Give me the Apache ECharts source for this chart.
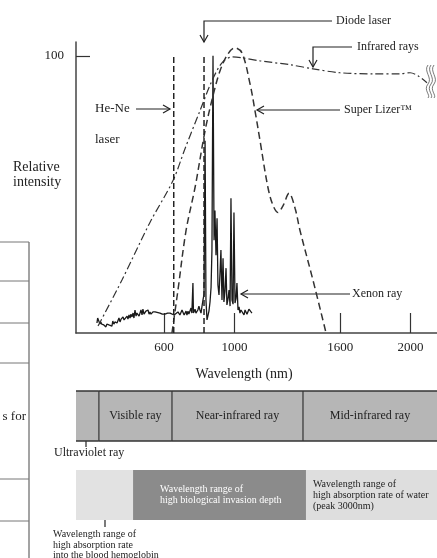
<!DOCTYPE html>
<html>
<head>
<meta charset="utf-8">
<style>
  html, body { margin: 0; padding: 0; background: #fff; }
  #chart { width: 437px; height: 558px; }
</style>
<script src="https://cdn.jsdelivr.net/npm/echarts@6/dist/echarts.min.js"></script>
</head>
<body>
<div id="chart"></div>
<script>
// x tick labels (nm) and y tick label
var tickValues = [600, 1000, 1600, 2000];
var yTicks = [100];

// Xenon ray spectrum (nm, relative intensity)
var xenonNm  = [219, 223, 227, 231, 236, 241, 246, 253, 258, 264, 270, 275, 281, 287, 292, 298, 304, 309, 315, 321, 327, 333, 339, 344, 350, 356, 361, 367, 373, 378, 384, 390, 395, 401, 407, 412, 418, 424, 429, 435, 441, 446, 452, 458, 463, 469, 475, 480, 486, 492, 497, 503, 509, 515, 520, 526, 537, 549, 560, 577, 590, 605, 620, 634, 645, 657, 668, 679, 690, 696, 702, 708, 714, 719, 725, 730, 736, 741, 747, 753, 758, 764, 767, 770, 776, 781, 787, 792, 798, 804, 810, 815, 821, 827, 833, 838, 844, 850, 855, 861, 867, 872, 878, 884, 889, 895, 901, 906, 912, 918, 923, 929, 935, 940, 946, 952, 957, 963, 969, 975, 980, 986, 992, 997, 1003, 1009, 1014, 1020, 1026, 1031, 1037, 1043, 1048, 1054, 1060, 1065, 1071, 1077, 1082, 1088, 1094, 1099];
var xenonVal = [3.6, 5.4, 4.7, 5.0, 3.2, 4.0, 3.2, 3.6, 2.9, 3.2, 2.2, 3.2, 2.5, 2.9, 3.6, 2.9, 2.5, 4.3, 3.2, 4.0, 4.7, 3.6, 3.6, 5.4, 4.0, 5.0, 4.3, 5.8, 4.7, 5.4, 4.7, 6.1, 5.0, 6.5, 5.4, 6.8, 5.8, 7.2, 5.4, 8.3, 6.1, 7.2, 7.9, 6.1, 5.8, 8.3, 6.5, 8.6, 6.8, 6.1, 7.9, 7.2, 8.3, 6.8, 7.6, 6.8, 7.6, 7.6, 7.2, 7.2, 6.8, 6.8, 7.2, 7.2, 6.5, 6.5, 7.2, 7.6, 6.5, 6.8, 8.3, 8.6, 6.5, 6.8, 7.9, 6.5, 7.9, 6.8, 6.8, 9.0, 7.2, 18.0, 7.2, 7.2, 8.6, 7.2, 7.6, 8.3, 9.7, 8.3, 7.2, 9.4, 11.9, 14.0, 69.4, 11.9, 4.7, 4.7, 7.9, 11.2, 16.5, 29.9, 100, 33.5, 44.2, 28.1, 41.4, 17.3, 13.7, 22.0, 29.9, 11.9, 27.0, 11.2, 15.1, 23.4, 10.1, 12.2, 15.5, 9.7, 48.6, 11.9, 10.4, 43.5, 10.8, 12.6, 18.0, 8.3, 9.4, 7.2, 8.3, 9.0, 7.6, 6.5, 8.3, 8.6, 6.8, 6.5, 8.6, 9.0, 7.6, 7.2];

// Super Lizer output
var lizerNm  = [645, 679, 725, 776, 833, 878, 918, 963, 1003, 1043, 1088, 1117, 1145, 1190, 1219, 1247, 1276, 1310, 1344, 1372, 1446, 1520];
var lizerVal = [0, 15.5, 37, 52.5, 73, 85.6, 94.6, 100.7, 102.9, 101, 90, 80, 69.4, 52.5, 46, 43.5, 46, 50.4, 45, 37, 19, 0];

// Infrared rays
var infraNm  = [225, 361, 520, 651, 719, 804, 872, 929, 986, 1043, 1145, 1315, 1446, 1599, 1787, 1940, 1997, 2042, 2093];
var infraVal = [2.5, 19.1, 39.9, 55.0, 66.5, 80.2, 91.0, 97.5, 99.6, 99.3, 98.2, 96.8, 95.3, 93.9, 93.5, 93.5, 93.9, 92.8, 90.3];

// laser lines
var heNeNm = 655;
var diodeNm = 827;
var laserTop = 100;

// wavelength bands (nm ranges as drawn)
var bandRow1 = [[100, 230], [230, 645], [645, 1389], [1389, 2150]];
var bandRow1Labels = ['', 'Visible ray', 'Near-infrared ray', 'Mid-infrared ray'];
var bandRow2 = [[100, 424], [424, 1406], [1406, 2150]];
var bandRow2Labels = ['', 'Wavelength range of\nhigh biological invasion depth', 'Wavelength range of\nhigh absorption rate of water\n(peak 3000nm)'];

function pairs(xs, ys) {
  return xs.map(function (x, i) { return [x, ys[i]]; });
}

var serif = '"Liberation Serif", "DejaVu Serif", serif';
var ink = '#222';

function arrow(pts) {
  var p = pts[pts.length - 1], q = pts[pts.length - 2];
  var dx = p[0] - q[0], dy = p[1] - q[1];
  var len = Math.sqrt(dx * dx + dy * dy);
  var ux = dx / len, uy = dy / len;
  var head = [
    [p[0] - 7 * ux - 4 * uy, p[1] - 7 * uy + 4 * ux],
    p,
    [p[0] - 7 * ux + 4 * uy, p[1] - 7 * uy - 4 * ux]
  ];
  return [
    { type: 'polyline', shape: { points: pts }, style: { stroke: ink, lineWidth: 1.2, fill: null } },
    { type: 'polyline', shape: { points: head }, style: { stroke: ink, lineWidth: 1.2, fill: null } }
  ];
}

function label(x, y, text, size, extra) {
  var s = { x: x, y: y, text: text, font: (size || 12) + 'px ' + serif, fill: ink, verticalAlign: 'middle' };
  for (var k in extra) s[k] = extra[k];
  return { type: 'text', style: s };
}

var graphics = [];
graphics = graphics.concat(arrow([[332, 21], [204, 21], [204, 42]]));
graphics.push(label(336, 21, 'Diode laser'));
graphics = graphics.concat(arrow([[352, 47], [313, 47], [313, 67]]));
graphics.push(label(357, 47, 'Infrared rays'));
graphics = graphics.concat(arrow([[340, 110], [257, 110]]));
graphics.push(label(344, 110, 'Super Lizer\u2122'));
graphics = graphics.concat(arrow([[350, 294], [241, 294]]));
graphics.push(label(352, 294, 'Xenon ray'));
graphics = graphics.concat(arrow([[136, 109], [170, 109]]));
graphics.push(label(95, 109, 'He-Ne', 13));
graphics.push(label(95, 140, 'laser', 13));
graphics.push(label(13, 175, 'Relative\nintensity', 14, { lineHeight: 15 }));

// break mark at right end of infrared line
[0, 3, 6].forEach(function (o) {
  var x = 428 + o;
  graphics.push({
    type: 'bezierCurve',
    shape: { x1: x, y1: 65, cpx1: x - 5, cpy1: 71, cpx2: x + 5, cpy2: 78, x2: x, y2: 84 },
    style: { stroke: '#555', lineWidth: 0.8, fill: null }
  });
  graphics.push({
    type: 'bezierCurve',
    shape: { x1: x, y1: 84, cpx1: x - 5, cpy1: 90, cpx2: x + 3, cpy2: 95, x2: x, y2: 98 },
    style: { stroke: '#555', lineWidth: 0.8, fill: null }
  });
});

// pointer lines under the bands
graphics.push({ type: 'line', shape: { x1: 86, y1: 433, x2: 86, y2: 447 }, style: { stroke: ink, lineWidth: 1.2 } });
graphics.push(label(54, 453, 'Ultraviolet ray'));
graphics.push({ type: 'line', shape: { x1: 105, y1: 512, x2: 105, y2: 527 }, style: { stroke: ink, lineWidth: 1.2 } });
graphics.push(label(53, 545, 'Wavelength range of\nhigh absorption rate\ninto the blood hemoglobin', 10, { lineHeight: 10.5 }));

// part of the neighbouring table on the left
graphics.push({ type: 'line', shape: { x1: 29, y1: 242, x2: 29, y2: 558 }, style: { stroke: '#666', lineWidth: 1.2 } });
[242, 281, 323, 363, 479, 521].forEach(function (y) {
  graphics.push({ type: 'line', shape: { x1: 0, y1: y, x2: 29, y2: y }, style: { stroke: '#777', lineWidth: 1 } });
});
graphics.push(label(26, 417, 's for', 13, { align: 'right' }));

function bandRenderer(labels, fills, textFill, textOffsets, borders, fontSize) {
  return function (params, api) {
    var a = api.coord([api.value(0), 1]);
    var b = api.coord([api.value(1), 0]);
    var i = params.dataIndex;
    var w = b[0] - a[0], h = b[1] - a[1];
    var kids = [{ type: 'rect', shape: { x: a[0], y: a[1], width: w, height: h }, style: { fill: fills[i] } }];
    if (borders) {
      kids.push({ type: 'line', shape: { x1: a[0], y1: a[1], x2: b[0], y2: a[1] }, style: { stroke: '#333', lineWidth: 1.5 } });
      kids.push({ type: 'line', shape: { x1: a[0], y1: b[1], x2: b[0], y2: b[1] }, style: { stroke: '#333', lineWidth: 1.5 } });
      if (i > 0) kids.push({ type: 'line', shape: { x1: a[0], y1: a[1], x2: a[0], y2: b[1] }, style: { stroke: '#333', lineWidth: 1.2 } });
    }
    var txt = labels[i];
    if (txt) {
      var off = textOffsets[i];
      kids.push({
        type: 'text',
        style: {
          x: off == null ? a[0] + w / 2 : a[0] + off,
          y: a[1] + h / 2,
          text: txt,
          align: off == null ? 'center' : 'left',
          verticalAlign: 'middle',
          font: fontSize + 'px ' + serif,
          lineHeight: fontSize + 1,
          fill: textFill[i]
        }
      });
    }
    return { type: 'group', children: kids };
  };
}

var chart = echarts.init(document.getElementById('chart'));
chart.setOption({
  animation: false,
  backgroundColor: '#fff',
  grid: [
    { left: 76, right: 0, top: 42, height: 291 },
    { left: 76, right: 0, top: 391, height: 50 },
    { left: 76, right: 0, top: 470, height: 50 }
  ],
  xAxis: [{
    type: 'value', gridIndex: 0, min: 100, max: 2150,
    splitLine: { show: false },
    axisLine: { lineStyle: { color: '#444', width: 1.5 } },
    axisTick: { customValues: tickValues, inside: true, length: 20, lineStyle: { color: '#333', width: 1.2 } },
    axisLabel: { customValues: tickValues, color: ink, fontSize: 13, fontFamily: serif, margin: 8,
      formatter: function (v) { return String(v); } },
    name: 'Wavelength (nm)', nameLocation: 'middle', nameGap: 34,
    nameTextStyle: { color: ink, fontSize: 14, fontFamily: serif, padding: [0, 25, 0, 0] }
  }, {
    type: 'value', gridIndex: 1, min: 100, max: 2150, show: false
  }, {
    type: 'value', gridIndex: 2, min: 100, max: 2150, show: false
  }],
  yAxis: [{
    type: 'value', gridIndex: 0, min: 0, max: 105,
    splitLine: { show: false },
    axisLine: { show: true, lineStyle: { color: '#444', width: 1.5 } },
    axisTick: { show: true, customValues: yTicks, inside: true, length: 14, lineStyle: { color: '#333', width: 1.2 } },
    axisLabel: { customValues: yTicks, color: ink, fontSize: 13, fontFamily: serif, margin: 12 }
  }, {
    type: 'value', gridIndex: 1, min: 0, max: 1, show: false
  }, {
    type: 'value', gridIndex: 2, min: 0, max: 1, show: false
  }],
  series: [{
    name: 'Xenon ray', type: 'line', data: pairs(xenonNm, xenonVal),
    symbol: 'none', lineStyle: { color: '#1a1a1a', width: 1.3 }, z: 3
  }, {
    name: 'Super Lizer', type: 'line', data: pairs(lizerNm, lizerVal),
    symbol: 'none', smooth: 0.35, lineStyle: { color: '#333', width: 1.5, type: [7, 4] }
  }, {
    name: 'Infrared rays', type: 'line', data: pairs(infraNm, infraVal),
    symbol: 'none', smooth: 0.3, lineStyle: { color: '#333', width: 1.2, type: [8, 3, 2, 3] }
  }, {
    name: 'He-Ne laser', type: 'line', data: [[heNeNm, 0], [heNeNm, laserTop]],
    symbol: 'none', lineStyle: { color: '#222', width: 1.5, type: [6, 3] }
  }, {
    name: 'Diode laser', type: 'line', data: [[diodeNm, 0], [diodeNm, laserTop]],
    symbol: 'none', lineStyle: { color: '#222', width: 1.5, type: [6, 3] }
  }, {
    type: 'custom', xAxisIndex: 1, yAxisIndex: 1,
    renderItem: bandRenderer(bandRow1Labels, ['#b6b6b6', '#b6b6b6', '#b6b6b6', '#b6b6b6'], [ink, ink, ink, ink], [null, null, null, null], true, 12),
    data: bandRow1
  }, {
    type: 'custom', xAxisIndex: 2, yAxisIndex: 2,
    renderItem: bandRenderer(bandRow2Labels, ['#e2e2e2', '#8b8b8b', '#dedede'], [ink, '#fff', ink], [null, 27, 7], false, 10),
    data: bandRow2
  }],
  graphic: graphics
});
</script>
</body>
</html>
